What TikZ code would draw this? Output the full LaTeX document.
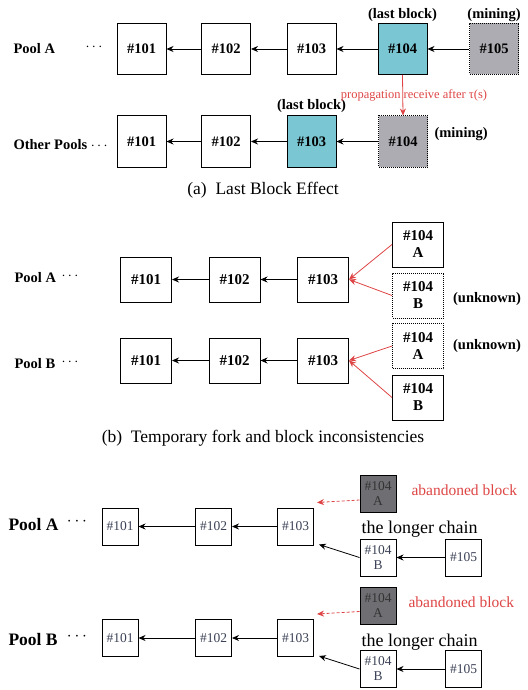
\documentclass[tikz,border=0pt]{standalone}
\usepackage{fontspec}
\setmainfont{Liberation Serif}
\usetikzlibrary{arrows.meta}
\definecolor{lastcyan}{RGB}{122,198,210}
\definecolor{minegray}{RGB}{172,172,178}
\definecolor{abandgray}{RGB}{110,110,115}
\definecolor{propred}{RGB}{222,68,68}
\definecolor{numink}{RGB}{60,66,86}
\begin{document}
\begin{tikzpicture}[x=1pt,y=-1pt,
		blk/.style={draw,line width=1pt,minimum width=49pt,minimum height=51pt,inner sep=0pt,font=\bfseries\fontsize{14.5}{15}\selectfont},
		lastblk/.style={blk,fill=lastcyan},
		mineblk/.style={blk,fill=minegray,densely dotted},
		blkb/.style={draw,line width=1pt,minimum width=51pt,minimum height=45pt,inner sep=0pt,align=center,font=\bfseries\fontsize{15}{17}\selectfont},
		unkblk/.style={blkb,densely dotted},
		blkc/.style={draw,line width=1pt,minimum width=36pt,minimum height=37pt,inner sep=0pt,align=center,text=numink,font=\fontsize{13.5}{15}\selectfont},
		abandblk/.style={blkc,fill=abandgray,text=black!80},
		lbl/.style={font=\bfseries\fontsize{14.5}{15}\selectfont},
		lblc/.style={font=\bfseries\fontsize{17.5}{18}\selectfont},
		caption/.style={font=\fontsize{17.5}{20}\selectfont},
		arr/.style={-{Stealth[length=7pt,width=6pt]},line width=0.8pt},
		redarr/.style={arr,draw=propred}]
		\useasboundingbox (0,0) rectangle (527,690);
		\coordinate (ra) at (0,49);
		\coordinate (ro) at (0,141.5);
		\node[blk] (a101) at (141.5,49) {\#101};
		\node[blk] (a102) at (226,49) {\#102};
		\node[blk] (a103) at (311.5,49) {\#103};
		\node[lastblk] (a104) at (402.5,49) {\#104};
		\node[mineblk] (a105) at (494,49) {\#105};
		\node[blk] (o101) at (141.5,141.5) {\#101};
		\node[blk] (o102) at (226,141.5) {\#102};
		\node[lastblk] (o103) at (311.5,141.5) {\#103};
		\node[mineblk] (o104) at (403,141.5) {\#104};
		\draw[arr] (a105) -- (a104);
		\draw[arr] (a104) -- (a103);
		\draw[arr] (a103) -- (a102);
		\draw[arr] (a102) -- (a101);
		\draw[arr] (o104) -- (o103);
		\draw[arr] (o103) -- (o102);
		\draw[arr] (o102) -- (o101);
		\draw[redarr] (a104.south) -- (o104.north);
		\node[lbl,anchor=west] (poola) at ([shift={(10,0)}]ra) {Pool A};
		\node[lbl] (dotsa) at (94,47) {$\cdots$};
		\node[lbl,anchor=west] (others) at ([shift={(10,3)}]ro) {Other Pools $\cdots$};
		\node[lbl,anchor=south] (lasta) at ([yshift=-2]a104.north) {(last block)};
		\node[lbl,anchor=south] (minea) at ([yshift=-2]a105.north) {(mining)};
		\node[lbl,anchor=south] (lasto) at ([yshift=-1]o103.north) {(last block)};
		\node[lbl,anchor=west] (mineo) at ([shift={(3,-7)}]o104.east) {(mining)};
		\node[text=propred,font=\fontsize{12.5}{13}\selectfont] (prop) at (414,95) {propagation receive after τ(s)};
		\node[caption] (capa) at (263,190) {(a)\ \ Last Block Effect};
		\node[blkb] (pa101) at (146,279.5) {\#101};
		\node[blkb] (pa102) at (234.5,279.5) {\#102};
		\node[blkb] (pa103) at (323,279.5) {\#103};
		\node[blkb] (pa104a) at (418,244.5) {\#104\\A};
		\node[unkblk] (pa104b) at (418,295.5) {\#104\\B};
		\node[blkb] (pb101) at (146,360.5) {\#101};
		\node[blkb] (pb102) at (234.5,360.5) {\#102};
		\node[blkb] (pb103) at (323,360.5) {\#103};
		\node[unkblk] (pb104a) at (418,346) {\#104\\A};
		\node[blkb] (pb104b) at (418,397.5) {\#104\\B};
		\draw[arr] (pa103) -- (pa102);
		\draw[arr] (pa102) -- (pa101);
		\draw[arr] (pb103) -- (pb102);
		\draw[arr] (pb102) -- (pb101);
		\draw[redarr] (pa104a.west) -- (pa103.east);
		\draw[redarr] (pa104b.west) -- (pa103.east);
		\draw[redarr] (pb104a.west) -- (pb103.east);
		\draw[redarr] (pb104b.west) -- (pb103.east);
		\node[lbl,anchor=west] (poolba) at (11,278) {Pool A};
		\node[lbl] (dotsba) at (70,276) {$\cdots$};
		\node[lbl,anchor=west] (poolbb) at (11,364) {Pool B};
		\node[lbl] (dotsbb) at (70,362) {$\cdots$};
		\node[lbl] (unka) at (487,299) {(unknown)};
		\node[lbl] (unkb) at (487,346) {(unknown)};
		\node[caption] (capb) at (263,438) {(b)\ \ Temporary fork and block inconsistencies};
		\node[blkc] (ca101) at (120,526.5) {\#101};
		\node[blkc] (ca102) at (213.5,526.5) {\#102};
		\node[blkc] (ca103) at (295.5,526.5) {\#103};
		\node[abandblk] (ca104a) at (378,494) {\#104\\A};
		\node[blkc] (ca104b) at (378,557.5) {\#104\\B};
		\node[blkc] (ca105) at (463.5,557.5) {\#105};
		\node[blkc] (cb101) at (120,638) {\#101};
		\node[blkc] (cb102) at (213.5,638) {\#102};
		\node[blkc] (cb103) at (295.5,638) {\#103};
		\node[abandblk] (cb104a) at (378,605.5) {\#104\\A};
		\node[blkc] (cb104b) at (378,669) {\#104\\B};
		\node[blkc] (cb105) at (463.5,669) {\#105};
		\draw[arr] (ca103) -- (ca102);
		\draw[arr] (ca102) -- (ca101);
		\draw[arr] (ca105) -- (ca104b);
		\draw[arr] (ca104b.west) -- ([shift={(5,-1)}]ca103.south east);
		\draw[redarr,densely dashed] ([yshift=-6]ca104a.west) -- ([shift={(3,-5)}]ca103.north east);
		\draw[arr] (cb103) -- (cb102);
		\draw[arr] (cb102) -- (cb101);
		\draw[arr] (cb105) -- (cb104b);
		\draw[arr] (cb104b.west) -- ([shift={(5,-1)}]cb103.south east);
		\draw[redarr,densely dashed] ([yshift=-6]cb104a.west) -- ([shift={(3,-5)}]cb103.north east);
		\node[lblc,anchor=west] (poolca) at (5,525) {Pool A};
		\node[lblc] (dotsca) at (77,522) {$\cdots$};
		\node[lblc,anchor=west] (poolcb) at (5,640) {Pool B};
		\node[lblc] (dotscb) at (77,637) {$\cdots$};
		\node[text=propred,anchor=west,font=\fontsize{15.5}{16}\selectfont] (abanda) at (408,490) {abandoned block};
		\node[text=propred,anchor=west,font=\fontsize{15.5}{16}\selectfont] (abandb) at (405,602) {abandoned block};
		\node[anchor=west,font=\fontsize{18}{19}\selectfont] (longa) at (358,529) {the longer chain};
		\node[anchor=west,font=\fontsize{18}{19}\selectfont] (longb) at (358,642) {the longer chain};
	\end{tikzpicture}
\end{document}
